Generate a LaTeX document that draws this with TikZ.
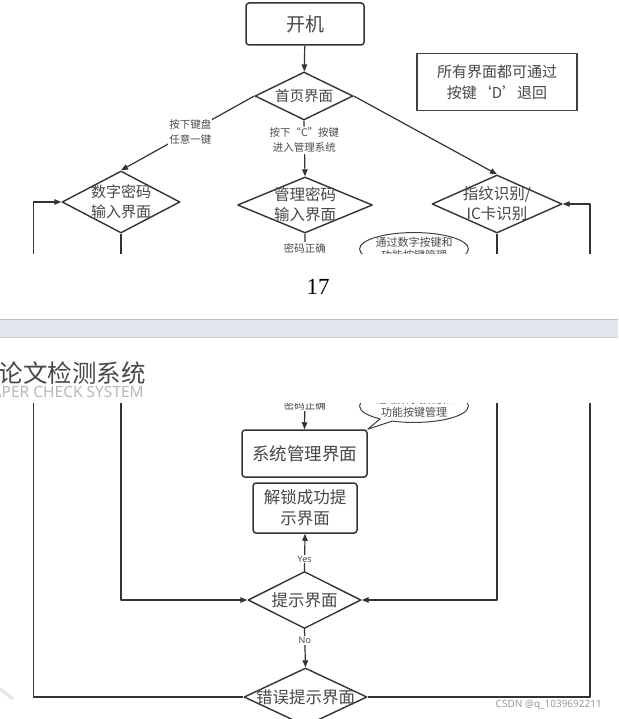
\documentclass[tikz,border=0pt]{standalone}
\usepackage{fontspec}
\setmainfont{Noto Sans CJK SC}
\newfontfamily\serifnum{Liberation Serif}
\newfontfamily\latinsans{Noto Sans}
\usetikzlibrary{arrows.meta,shapes.geometric,shapes.callouts}

\newcommand{\fsz}[2]{\fontsize{#1}{#2}\selectfont}

% the chart in page-17 coordinates; drawn once per page
\newcommand{\flowchart}{%
	\node[rbox, minimum width=118pt, minimum height=42pt, font=\fsz{19}{22}] (boot) at (305,24) {开机};
	\node[dia, minimum width=98pt, minimum height=48pt,
		label={[dtext, font=\fsz{14.5}{18}]center:首页界面}] (home) at (304,96) {};
	\node[dia, minimum width=118pt, minimum height=62pt,
		label={[dtext, font=\fsz{15}{20}]center:数字密码\\输入界面}] (numpw) at (121,202) {};
	\node[dia, minimum width=135pt, minimum height=56pt,
		label={[dtext, font=\fsz{15.5}{20}]center:管理密码\\输入界面}] (adminpw) at (305,205) {};
	\node[dia, minimum width=130pt, minimum height=58pt,
		label={[dtext, font=\fsz{15.5}{20}]center:指纹识别/\\IC卡识别}] (card) at (497,204) {};
	\node[draw=black!75, line width=1.3pt, minimum width=160pt, minimum height=57pt,
		text=black!72, align=center, font=\fsz{15}{21}] (note) at (497,82) {所有界面都可通过\\按键‘D’退回};
	% page 18
	\node[rbox, minimum width=125pt, minimum height=47pt, font=\fsz{17.5}{21}] (sysui) at (304.5,296.5) {系统管理界面};
	\node[rbox, minimum width=104pt, minimum height=50pt, font=\fsz{16.5}{21}] (unlock) at (305,351) {解锁成功提\\示界面};
	\node[dia, minimum width=113pt, minimum height=57pt,
		label={[dtext, font=\fsz{16.5}{20}]center:提示界面}] (hint) at (304.5,443) {};
	\node[dia, minimum width=123pt, minimum height=58pt,
		label={[dtext, font=\fsz{16.5}{20}]center:错误提示界面}] (err) at (305.5,540) {};
	\node[ellipse callout, callout absolute pointer={(sysui.north east)}, draw=black!75, line width=1pt,
		inner sep=0pt, text=black!70, align=center, font=\fsz{11}{13}] (bubble) at (414,249) {通过数字按键和\\功能按键管理};
	\coordinate (lret) at (33.5,540);
	\coordinate (rret) at (590,540);
	% connectors
	\draw[conn, ->] (boot) -- (home);
	\draw[conn, ->] (home.west) -- node[lbl, pos=0.48] {按下键盘\\任意一键} (numpw.north);
	\draw[conn, ->] (home.south) -- node[lbl, pos=0.35] {按下“C”按键\\进入管理系统} (adminpw.north);
	\draw[conn, ->] (home.east) -- (card.north);
	\draw[conn, ->] (adminpw.south) -- node[lbl, pos=0.38] {密码正确} (sysui.north);
	\draw[conn, ->] (numpw.south) |- (hint.west);
	\draw[conn, ->] (card.south) |- (hint.east);
	\draw[conn, ->] (hint.north) -- node[lbl, pos=0.32, font=\latinsans\fsz{9}{10}] {Yes} (unlock.south);
	\draw[conn, ->] (hint.south) -- node[lbl, pos=0.3, font=\latinsans\fsz{9}{10}] {No} (err.north);
	\draw[conn, ->] (err.west) -- (lret) |- (numpw.west);
	\draw[conn, ->] (err.east) -- (rret) |- (card.east);
}

\begin{document}
\begin{tikzpicture}[x=1pt, y=-1pt, line join=round, >={Triangle[length=7pt,width=5.5pt]},
	rbox/.style={rectangle, rounded corners=3pt, draw=black!80, line width=1.5pt,
		text=black!72, align=center, inner sep=0pt},
	dia/.style={diamond, draw=black!80, line width=1.4pt, inner sep=0pt},
	dtext/.style={text=black!72, align=center, inner sep=0pt},
	conn/.style={draw=black!80, line width=1.2pt},
	lbl/.style={fill=white, inner sep=1pt, text=black!70, align=center, font=\fsz{10.5}{15}}]
	\useasboundingbox[fill=white] (0,0) rectangle (618,719);

	% page 17, upper part of the chart
	\begin{scope}
		\clip (0,0) rectangle (618,253);
		\flowchart
	\end{scope}
	% page 18, rest of the chart
	\begin{scope}
		\clip (0,403) rectangle (618,719);
		\begin{scope}[shift={(0,157)}]
			\flowchart
		\end{scope}
	\end{scope}

	% page number and page gap
	\node[font=\serifnum\fsz{23}{23}] (pnum) at (318,287) {17};
	\fill[fill={rgb,255:red,226;green,231;blue,238}] (0,319) rectangle (618,337);
	\draw[draw={rgb,255:red,190;green,192;blue,195}, line width=1pt] (0,319) -- (618,319);
	\draw[draw={rgb,255:red,200;green,203;blue,207}, line width=0.8pt] (0,337) -- (618,337);

	% header of page 18
	\begin{scope}
		\clip (0,340) rectangle (618,400);
		\node[anchor=east, inner sep=0pt, text=black!72, font=\fsz{24.5}{25}] (hdtitle) at (146,373) {论文检测系统};
		\node[anchor=east, inner sep=0pt, text=black!28, font=\latinsans\fsz{15.5}{16}] (hdsub) at (144,392) {PAPER CHECK SYSTEM};
	\end{scope}

	% csdn mark
	\node[anchor=east, inner sep=0pt, text=black!40, font=\latinsans\fsz{10}{10}] (csdn) at (602,705) {CSDN @q\_1039692211};
	\draw[black!10, line width=3pt] (0,689) -- (13,699);
\end{tikzpicture}
\end{document}
